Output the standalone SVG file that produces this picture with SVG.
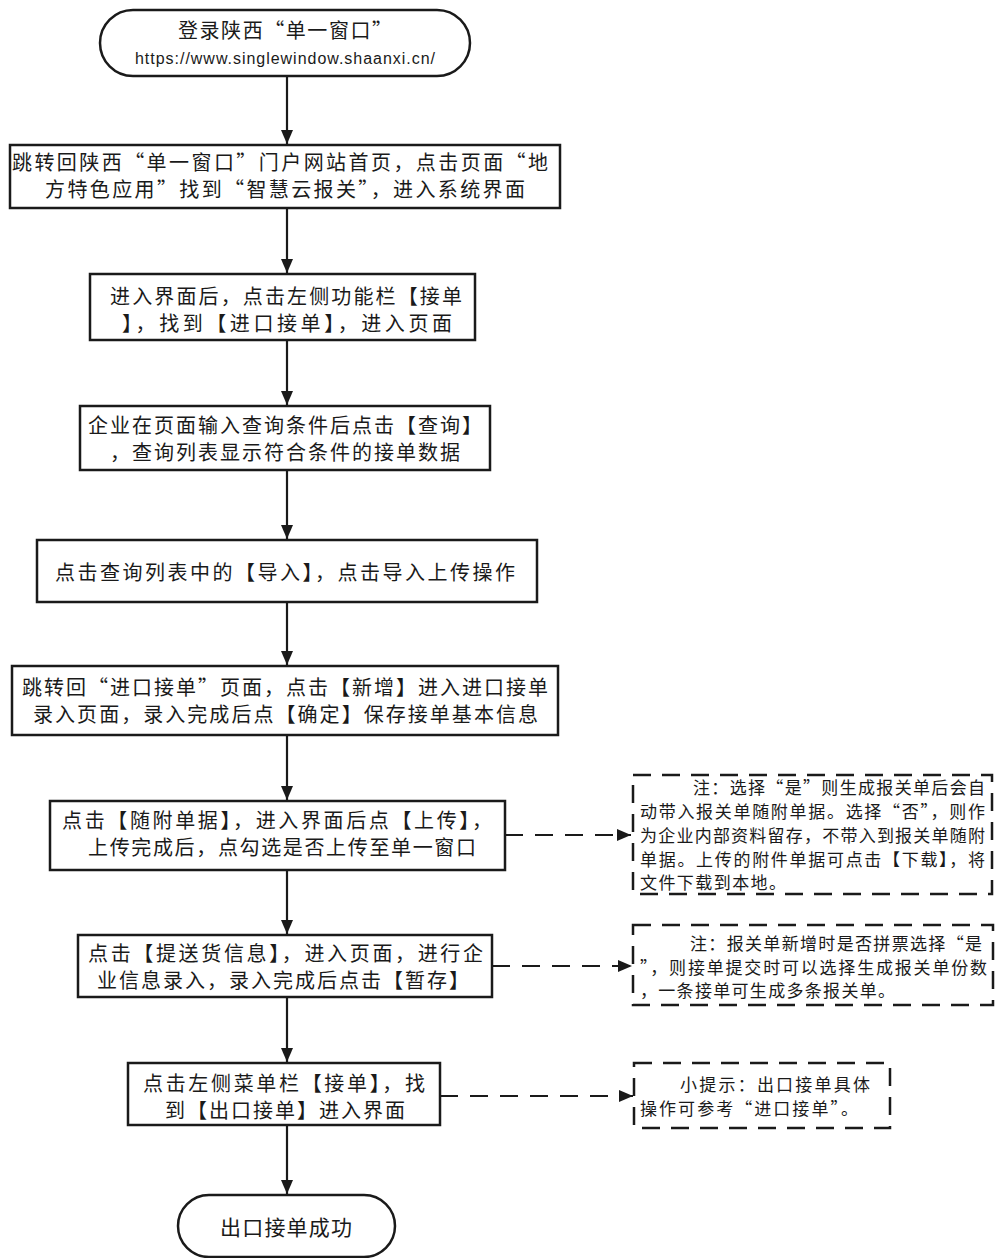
<svg xmlns="http://www.w3.org/2000/svg" width="995" height="1258" viewBox="0 0 995 1258">
<style>
.box{fill:#fff;stroke:#1a1a1a;stroke-width:2.5}
.note{fill:#fff;stroke:#1a1a1a;stroke-width:2.5;stroke-dasharray:18 11}
.t{font-family:"Noto Sans CJK SC","Microsoft YaHei",sans-serif;font-size:20px;fill:#1a1a1a}
.m{text-anchor:middle}
.n{font-family:"Noto Sans CJK SC","Microsoft YaHei",sans-serif;font-size:17px;fill:#1a1a1a}
.u{font-family:"Liberation Sans","Noto Sans",sans-serif;font-size:16px;fill:#1a1a1a;text-anchor:middle}
.c{stroke:#1a1a1a;stroke-width:2.2;fill:none}
.d{stroke:#1a1a1a;stroke-width:2.2;fill:none;stroke-dasharray:18 12}
</style>
<defs>
<marker id="ah" markerUnits="userSpaceOnUse" markerWidth="14" markerHeight="14" refX="14" refY="7" orient="auto">
<path d="M0,1 L14,7 L0,13 Z" fill="#1a1a1a"/>
</marker>
</defs>
<rect width="995" height="1258" fill="#fff"/>
<g id="connectors">
<line class="c" x1="287" y1="76" x2="287" y2="144" marker-end="url(#ah)"/>
<line class="c" x1="287" y1="208" x2="287" y2="273" marker-end="url(#ah)"/>
<line class="c" x1="287" y1="340" x2="287" y2="405" marker-end="url(#ah)"/>
<line class="c" x1="287" y1="470" x2="287" y2="539" marker-end="url(#ah)"/>
<line class="c" x1="287" y1="602" x2="287" y2="665" marker-end="url(#ah)"/>
<line class="c" x1="287" y1="735" x2="287" y2="800" marker-end="url(#ah)"/>
<line class="c" x1="287" y1="870" x2="287" y2="934" marker-end="url(#ah)"/>
<line class="c" x1="287" y1="997" x2="287" y2="1062" marker-end="url(#ah)"/>
<line class="c" x1="287" y1="1125" x2="287" y2="1194" marker-end="url(#ah)"/>
<line class="d" x1="505" y1="835" x2="631" y2="835" marker-end="url(#ah)"/>
<line class="d" x1="492" y1="966" x2="632" y2="966" marker-end="url(#ah)"/>
<line class="d" x1="440" y1="1096" x2="633" y2="1096" marker-end="url(#ah)"/>
</g>
<g id="start">
<rect class="box" x="100" y="10" width="370" height="66" rx="33"/>
<text class="t m" x="285" y="37.5" textLength="214">登录陕西“单一窗口”</text>
<text class="u" x="285" y="64" textLength="300">https://www.singlewindow.shaanxi.cn/</text>
</g>
<g id="step1">
<rect class="box" x="10" y="145" width="550" height="63"/>
<text class="t" x="12" y="170" textLength="536">跳转回陕西“单一窗口”门户网站首页，点击页面“地</text>
<text class="t" x="45" y="197" textLength="480">方特色应用”找到“智慧云报关”，进入系统界面</text>
</g>
<g id="step2">
<rect class="box" x="90" y="274" width="385" height="66"/>
<text class="t" x="110" y="303.5" textLength="352">进入界面后，点击左侧功能栏【接单</text>
<text class="t" x="122" y="330.5" textLength="330">】，找到【进口接单】，进入页面</text>
</g>
<g id="step3">
<rect class="box" x="80" y="406" width="410" height="64"/>
<text class="t" x="88" y="432.5" textLength="394">企业在页面输入查询条件后点击【查询】</text>
<text class="t" x="110" y="459.5" textLength="350">，查询列表显示符合条件的接单数据</text>
</g>
<g id="step4">
<rect class="box" x="37" y="540" width="500" height="62"/>
<text class="t" x="55" y="579.5" textLength="460">点击查询列表中的【导入】，点击导入上传操作</text>
</g>
<g id="step5">
<rect class="box" x="12" y="666" width="546" height="69"/>
<text class="t" x="22" y="694.5" textLength="526">跳转回“进口接单”页面，点击【新增】进入进口接单</text>
<text class="t" x="33" y="721.5" textLength="505">录入页面，录入完成后点【确定】保存接单基本信息</text>
</g>
<g id="step6">
<rect class="box" x="50" y="801" width="455" height="69"/>
<text class="t" x="62" y="827.5" textLength="430">点击【随附单据】，进入界面后点【上传】，</text>
<text class="t" x="88" y="854.5" textLength="388">上传完成后，点勾选是否上传至单一窗口</text>
</g>
<g id="step7">
<rect class="box" x="78" y="935" width="414" height="62"/>
<text class="t" x="88" y="960.5" textLength="395">点击【提送货信息】，进入页面，进行企</text>
<text class="t" x="97" y="987.5" textLength="372">业信息录入，录入完成后点击【暂存】</text>
</g>
<g id="step8">
<rect class="box" x="128" y="1063" width="312" height="62"/>
<text class="t" x="143" y="1090.5" textLength="282">点击左侧菜单栏【接单】，找</text>
<text class="t" x="165" y="1117.5" textLength="240">到【出口接单】进入界面</text>
</g>
<g id="end">
<rect class="box" x="178" y="1195" width="217" height="62" rx="31"/>
<text class="t" x="220" y="1234.5" textLength="132" style="font-size:21px">出口接单成功</text>
</g>
<g id="note1">
<rect class="note" x="633" y="775" width="359" height="119"/>
<text class="n" x="693" y="793.5" textLength="292">注：选择“是”则生成报关单后会自</text>
<text class="n" x="640" y="817.5" textLength="345">动带入报关单随附单据。选择“否”，则作</text>
<text class="n" x="640" y="841.5" textLength="345">为企业内部资料留存，不带入到报关单随附</text>
<text class="n" x="640" y="865.5" textLength="345">单据。上传的附件单据可点击【下载】，将</text>
<text class="n" x="640" y="888.5" textLength="146">文件下载到本地。</text>
</g>
<g id="note2">
<rect class="note" x="633" y="925" width="360" height="80"/>
<text class="n" x="690" y="949.5" textLength="292">注：报关单新增时是否拼票选择“是</text>
<text class="n" x="640" y="973.5" textLength="347">”，则接单提交时可以选择生成报关单份数</text>
<text class="n" x="640" y="996.5" textLength="255">，一条接单可生成多条报关单。</text>
</g>
<g id="note3">
<rect class="note" x="634" y="1063" width="256" height="65"/>
<text class="n" x="680" y="1090.5" textLength="190">小提示：出口接单具体</text>
<text class="n" x="640" y="1114.5" textLength="218">操作可参考“进口接单”。</text>
</g>
</svg>
